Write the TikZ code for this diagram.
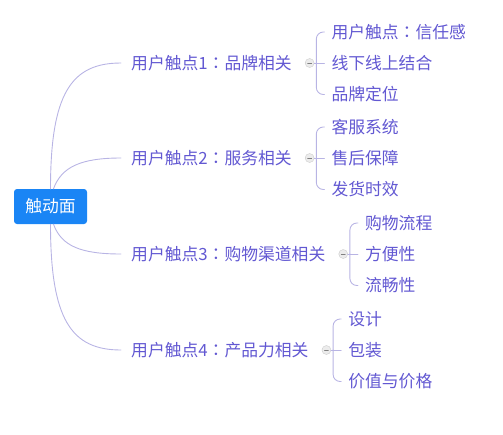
\documentclass[tikz,border=0pt]{standalone}
\usepackage{fontspec}
\setmainfont{Noto Sans CJK SC}
\newfontfamily\jpfont{Noto Sans CJK JP}
\usetikzlibrary{positioning}

\definecolor{rootblue}{RGB}{26,133,245}
\definecolor{topictext}{RGB}{98,88,210}
\definecolor{linkline}{RGB}{184,180,228}

\newcommand{\colonmark}{{\jpfont ：}}

\tikzset{
  root/.style={fill=rootblue,text=white,rounded corners=3pt,minimum width=73pt,minimum height=35pt,font=\fontsize{16.8}{20}\selectfont},
  topic/.style={text=topictext,inner xsep=10pt,inner ysep=2pt,font=\fontsize{16.8}{20}\selectfont},
  leaf/.style={text=topictext,inner xsep=2pt,inner ysep=2pt,anchor=west,font=\fontsize{16.8}{20}\selectfont},
  fold/.style={circle,draw=gray!40,fill=gray!15,minimum size=9pt,inner sep=0pt,
    path picture={\draw[gray,line width=0.6pt] ([xshift=-2pt]path picture bounding box.center) -- ([xshift=2pt]path picture bounding box.center);}},
  link/.style={draw=linkline,line width=0.9pt}
}

\begin{document}
\begin{tikzpicture}[x=1pt,y=-1pt,cap=round]
        \useasboundingbox (0,0) rectangle (503,434);

        % the central node
        \node[root] (root) at (50.5,206.5) {触动面};

        % the four touch points
        \foreach \i/\y/\txt in {1/63/品牌相关,2/158/服务相关,3/254/购物渠道相关,4/350/产品力相关}{
                \node[topic,anchor=west] (t\i) at (121,\y) {用户触点\i\colonmark\txt};
                \node[fold,right=3pt of t\i] (f\i) {};
                \coordinate[right=2pt of f\i] (j\i);
        }

        % curves from the central node
        \draw[link] (root.north) .. controls +(0,-95) and +(-50,0) .. (t1.west);
        \draw[link] ([xshift=3pt]root.north) .. controls +(8,-22) and +(-40,0) .. (t2.west);
        \draw[link] ([xshift=3pt]root.south) .. controls +(8,22) and +(-40,0) .. (t3.west);
        \draw[link] (root.south) .. controls +(0,95) and +(-50,0) .. (t4.west);

        % the leaves of each touch point
        \foreach \i/\a/\b/\c in {
            1/用户触点\colonmark 信任感/线下线上结合/品牌定位,
            2/客服系统/售后保障/发货时效,
            3/购物流程/方便性/流畅性,
            4/设计/包装/价值与价格}{
                \node[leaf,right=13pt of j\i] (c\i2) {\b};
                \node[leaf] (c\i1) at ([yshift=31pt]c\i2.west) {\a};
                \node[leaf] (c\i3) at ([yshift=-31.5pt]c\i2.west) {\c};
                \draw[link] (f\i.east) -- ([xshift=-5pt]c\i2.west);
                \draw[link,rounded corners=7pt] (j\i) |- ([xshift=-5pt]c\i1.west);
                \draw[link,rounded corners=7pt] (j\i) |- ([xshift=-5pt]c\i3.west);
        }

  \end{tikzpicture}
\end{document}
